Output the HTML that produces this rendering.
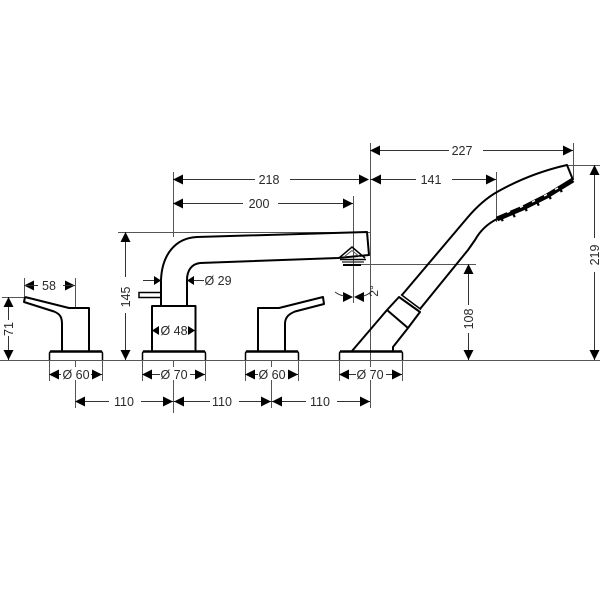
<!DOCTYPE html>
<html><head><meta charset="utf-8"><style>
html,body{margin:0;padding:0;background:#fff}
svg{display:block}
text{font-family:"Liberation Sans",sans-serif;font-size:12.5px;fill:#2a2a2a;text-anchor:middle}
.d{stroke:#333;stroke-width:1;fill:none}
.e{stroke:#555;stroke-width:1;fill:none}
.o{stroke:#000;stroke-width:2;fill:none;stroke-linejoin:round}
.t{stroke:#000;stroke-width:1.5;fill:none}
.a{fill:#000;stroke:none}
</style></head><body>
<svg width="600" height="600" viewBox="0 0 600 600" xmlns="http://www.w3.org/2000/svg">
<defs>
<path id="l" d="M0 0L10 -5V5Z"/>
<path id="r" d="M0 0L-10 -5V5Z"/>
<path id="u" d="M0 0L-5 10H5Z"/>
<path id="w" d="M0 0L-5 -10H5Z"/>
<path id="ls" d="M0 0L7 -4.500V4.500Z"/>
<path id="rs" d="M0 0L-7 -4.500V4.500Z"/>
</defs>

<!-- extension lines -->
<path class="e" d="M0 360.500H600M118 232.500H370M2 297.500H24M355 264.500H476M567 165.500H600"/>
<path class="e" d="M173.500 172V237M370.500 143V367M370.500 380V408M353.500 196V303M496.500 172V222M573.500 143V180M24.500 278V297M75.500 278V308"/>
<path class="e" d="M49.500 360V381M102.500 360V381M75.500 360V367M75.500 380V408M142.500 360V381M205.500 360V381M173.500 360V367M173.500 380V413M245.500 360V381M298.500 360V381M271.500 360V367M271.500 380V408M339.500 360V381M402.500 360V381"/>

<!-- left handle -->
<path class="o" d="M25 297L69 308H89V351M62 351V324C62 317 60 314 54 311.500L24 302L25 297"/>
<path d="M49.500 360V353.500Q49.500 351.500 51.500 351.500H100.500Q102.500 351.500 102.500 353.500V360" stroke="#000" stroke-width="1.500" fill="none"/>
<path d="M50 351.500H102" stroke="#000" stroke-width="2.500"/>

<!-- centre spout -->
<path d="M142.500 360V353.500Q142.500 351.500 144.500 351.500H203.500Q205.500 351.500 205.500 353.500V360" stroke="#000" stroke-width="1.500" fill="none"/>
<path d="M143 351.500H205" stroke="#000" stroke-width="2.500"/>
<path class="o" d="M152 351V306H195.500V351"/>
<path class="o" d="M161 305V280C162 255 175 238 197 237L367 232L369 255L338 258L200 263C192 264 187 270 187 280V305"/>
<rect x="139" y="292.500" width="22" height="5" fill="none" stroke="#000" stroke-width="1.500"/>
<path class="t" d="M339 258L352 247L365 258"/>
<path d="M344 257L352 250.500L360 257" stroke="#555" stroke-width="1" fill="none"/>
<path d="M340 259.500H366" stroke="#000" stroke-width="1.500"/>
<path d="M342 262H364" stroke="#222" stroke-width="1.200"/>
<path d="M343 265H361" stroke="#000" stroke-width="2"/>

<!-- right handle -->
<path class="o" d="M258 351V308H279L323 297L324 304L295 311.500C289 314 285 317 285 324V351"/>
<path d="M245.500 360V353.500Q245.500 351.500 247.500 351.500H296.500Q298.500 351.500 298.500 353.500V360" stroke="#000" stroke-width="1.500" fill="none"/>
<path d="M246 351.500H298" stroke="#000" stroke-width="2.500"/>

<!-- hand shower -->
<path d="M339.500 360V353.500Q339.500 351.500 341.500 351.500H400.500Q402.500 351.500 402.500 353.500V360" stroke="#000" stroke-width="1.500" fill="none"/>
<path d="M340 351.500H402" stroke="#000" stroke-width="2.500"/>
<path class="o" d="M352 351L387 310L399 297L420 312L408 328L393 347V351"/>
<path class="o" d="M387 310L408 328"/>
<path class="t" d="M401 294.500L421 309.500"/>
<path class="o" d="M402 295L468 217C480 203 490 196 497 192C520 179 545 170 567 165L573 180"/>
<path class="o" d="M420 309L468 250L475 240C480 231 487 224 497 219"/>
<path d="M497 219L523 208L547 196L573 180" stroke="#000" stroke-width="5" fill="none"/>
<path d="M507 212.500L510 211M520 207.500L523 206M532 202L535 200.500M544 196L547 194.500M555 189.500L558 188" stroke="#fff" stroke-width="1.500" fill="none"/>
<path d="M501 220L503 219M513 216L515 215M525 210L527 209M537 204.500L539 203.500M549 198L551 197M560 191L562 190" stroke="#000" stroke-width="3.500" fill="none"/>

<!-- dimensions -->
<path class="d" d="M370 150.500H449M483 150.500H573"/>
<use href="#l" x="370" y="150.500" class="a"/><use href="#r" x="573" y="150.500" class="a"/>
<text x="462" y="155">227</text>
<path class="d" d="M370 179.500H416M452 179.500H496"/>
<use href="#l" x="371" y="179.500" class="a"/><use href="#r" x="496" y="179.500" class="a"/>
<text x="431" y="184">141</text>
<path class="d" d="M173 179.500H255M290 179.500H368"/>
<use href="#l" x="173" y="179.500" class="a"/><use href="#r" x="369" y="179.500" class="a"/>
<text x="269" y="184">218</text>
<path class="d" d="M173 203.500H243M278 203.500H353"/>
<use href="#l" x="173" y="203.500" class="a"/><use href="#r" x="353" y="203.500" class="a"/>
<text x="259" y="208">200</text>

<path class="d" d="M125.500 232V277M125.500 313V360"/>
<use href="#u" x="125.500" y="232" class="a"/><use href="#w" x="125.500" y="360" class="a"/>
<text transform="translate(130,297) rotate(-90)">145</text>

<path class="d" d="M8.500 297V320M8.500 336V360"/>
<use href="#u" x="8.500" y="297" class="a"/><use href="#w" x="8.500" y="360" class="a"/>
<text transform="translate(13,329) rotate(-90)">71</text>

<use href="#l" x="24" y="285.500" class="a"/><use href="#r" x="75" y="285.500" class="a"/>
<path class="d" d="M24 285.500H38M63 285.500H75"/>
<text x="49" y="290">58</text>

<path class="d" d="M49 374.500H61M91 374.500H102"/>
<use href="#l" x="49" y="374.500" class="a"/><use href="#r" x="102" y="374.500" class="a"/>
<text x="76" y="379">Ø 60</text>

<path class="d" d="M142 374.500H160M190 374.500H205"/>
<use href="#l" x="142" y="374.500" class="a"/><use href="#r" x="205" y="374.500" class="a"/>
<text x="174" y="379">Ø 70</text>

<path class="d" d="M245 374.500H258M288 374.500H298"/>
<use href="#l" x="245" y="374.500" class="a"/><use href="#r" x="298" y="374.500" class="a"/>
<text x="272" y="379">Ø 60</text>

<path class="d" d="M339 374.500H356M386 374.500H402"/>
<use href="#l" x="339" y="374.500" class="a"/><use href="#r" x="402" y="374.500" class="a"/>
<text x="370" y="379">Ø 70</text>

<use href="#ls" x="152" y="330.500" class="a"/><use href="#rs" x="195" y="330.500" class="a"/>
<text x="174" y="335">Ø 48</text>

<path class="d" d="M143 280.500H161M187 280.500H204"/>
<use href="#rs" x="161" y="280.500" class="a"/><use href="#ls" x="187" y="280.500" class="a"/>
<text x="218" y="285">Ø 29</text>

<path class="d" d="M75 401.500H109M141 401.500H173M173 401.500H210M239 401.500H271M271 401.500H306M337 401.500H370"/>
<use href="#l" x="75" y="401.500" class="a"/><use href="#r" x="173" y="401.500" class="a"/>
<use href="#l" x="174" y="401.500" class="a"/><use href="#r" x="271" y="401.500" class="a"/>
<use href="#l" x="272" y="401.500" class="a"/><use href="#r" x="370" y="401.500" class="a"/>
<text x="124" y="406">110</text><text x="222" y="406">110</text><text x="320" y="406">110</text>

<use href="#r" x="353" y="297" class="a"/><use href="#l" x="354" y="297" class="a"/>
<path class="d" d="M335 292Q339 295 344 296M363 296Q368 295 372 291"/>
<text transform="translate(378,291) rotate(-90)" style="font-size:12px">2°</text>

<path class="d" d="M468.500 264V305M468.500 333V360"/>
<use href="#u" x="468.500" y="264" class="a"/><use href="#w" x="468.500" y="360" class="a"/>
<text transform="translate(473,319) rotate(-90)">108</text>

<path class="d" d="M594.500 165V238M594.500 272V360"/>
<use href="#u" x="594.500" y="165" class="a"/><use href="#w" x="594.500" y="360" class="a"/>
<text transform="translate(599,255) rotate(-90)">219</text>
</svg>
</body></html>
